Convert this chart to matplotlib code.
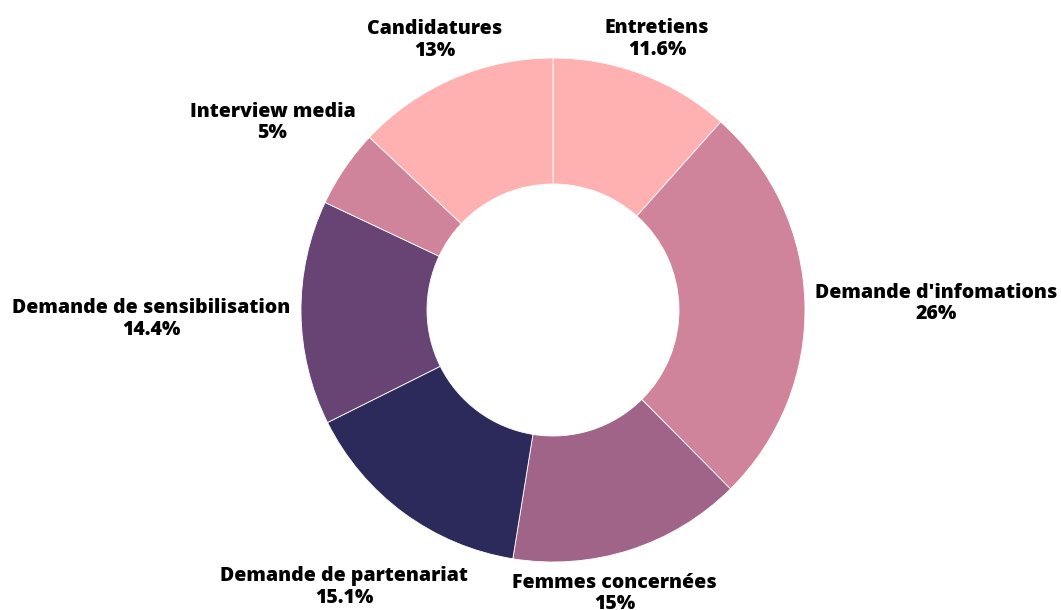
import matplotlib
matplotlib.use("Agg")
import matplotlib.pyplot as plt
from matplotlib import font_manager

categories = ["Entretiens", "Demande d'infomations", "Femmes concernées",
              "Demande de partenariat", "Demande de sensibilisation",
              "Interview media", "Candidatures"]
percents = [11.6, 26, 15, 15.1, 14.4, 5, 13]
percent_labels = ["11.6%", "26%", "15%", "15.1%", "14.4%", "5%", "13%"]
colors = ["#FFB0B0", "#D0849B", "#A06488", "#2C2A5A", "#674473", "#D0849B", "#FFB0B0"]

# label centres, in units of the outer radius (layout only)
label_xy = [(0.413, 1.075), (1.520, 0.025), (0.244, -1.125), (-0.829, -1.10),
            (-1.595, -0.035), (-1.113, 0.745), (-0.470, 1.072)]

W, H = 1061, 610
R_PX = 252
CX, CY = 553, 300  # centre from bottom-left, pixels

fig = plt.figure(figsize=(W / 100, H / 100), dpi=100)
ax = fig.add_axes([0, 0, 1, 1])
ax.pie(percents, colors=colors, startangle=90, counterclock=False,
       radius=1.0, wedgeprops=dict(width=0.5, edgecolor="white", linewidth=0.6))
ax.set_xlim(-CX / R_PX, (W - CX) / R_PX)
ax.set_ylim(-CY / R_PX, (H - CY) / R_PX)
ax.set_aspect("auto")
ax.axis("off")

xb = [f.fname for f in font_manager.fontManager.ttflist
      if f.fname.endswith("OpenSans-ExtraBold.ttf")]
if xb:
    fp = font_manager.FontProperties(fname=xb[0], size=14)
else:
    fp = font_manager.FontProperties(family=["Open Sans", "DejaVu Sans"],
                                     weight="bold", size=14)
for name, pl, (lx, ly) in zip(categories, percent_labels, label_xy):
    ax.text(lx, ly, f"{name}\n{pl}", ha="center", va="center",
            multialignment="center", fontproperties=fp,
            color="black", linespacing=1.1)

fig.savefig("out.png", dpi=100)
